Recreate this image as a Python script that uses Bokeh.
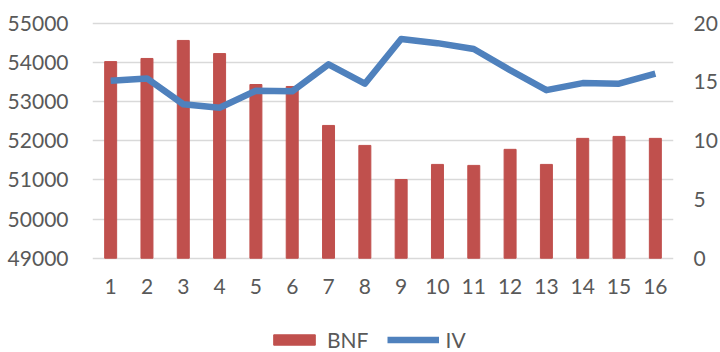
from bokeh.plotting import figure
from bokeh.models import Range1d, LinearAxis, FixedTicker, Legend, LegendItem
from bokeh.embed import file_html
from bokeh.resources import INLINE

periods = list(range(1, 17))
bnf = [54020, 54100, 54560, 54225, 53435, 53385, 52390, 51880,
       51010, 51395, 51370, 51780, 51395, 52060, 52110, 52060]
iv = [15.1, 15.3, 13.1, 12.8, 14.25, 14.2, 16.5, 14.85,
      18.65, 18.3, 17.8, 16.0, 14.3, 14.9, 14.85, 15.7]
left_ticks = [49000, 50000, 51000, 52000, 53000, 54000, 55000]
right_ticks = [0, 5, 10, 15, 20]

FONT = "Lato"
TXT = "#595959"
BAR = "#C0504D"
LINE = "#4F81BD"

# frame spans the full height; ranges are padded so that the 49000..55000
# band sits where the reference plot area is (legend lives below it)
p = figure(width=720, height=352, output_backend="svg", toolbar_location=None,
           x_range=Range1d(0.5, 16.5), y_range=Range1d(46593, 55580),
           x_axis_location=None,
           min_border_left=92, min_border_right=45, min_border_top=0,
           min_border_bottom=0)
p.outline_line_color = None
p.background_fill_color = "white"
p.border_fill_color = "white"
p.extra_y_ranges = {"iv": Range1d(-8.03, 21.93)}

bars = p.vbar(x=periods, top=bnf, bottom=49000, width=0.33, color=BAR)
line = p.line(x=periods, y=iv, y_range_name="iv", line_color=LINE,
              line_width=6.5, line_join="round")

xa = LinearAxis(ticker=FixedTicker(ticks=periods), fixed_location=49000)
p.add_layout(xa, "below")
p.yaxis.ticker = FixedTicker(ticks=left_ticks)
p.xgrid.visible = False
p.ygrid.grid_line_color = "#D9D9D9"
p.ygrid.grid_line_width = 1.5

ra = LinearAxis(y_range_name="iv", ticker=FixedTicker(ticks=right_ticks))
p.add_layout(ra, "right")

for ax in [xa, p.yaxis[0], ra]:
    ax.axis_line_color = None
    ax.major_tick_line_color = None
    ax.minor_tick_line_color = None
    ax.major_tick_out = 0
    ax.major_tick_in = 0
    ax.major_label_text_font = FONT
    ax.major_label_text_font_size = "21px"
    ax.major_label_text_color = TXT
p.yaxis[0].major_label_standoff = 24
ra.major_label_standoff = 20
xa.major_label_standoff = 21

legend = Legend(items=[LegendItem(label="BNF", renderers=[bars]),
                       LegendItem(label="IV", renderers=[line])],
                orientation="horizontal", location=(176, 0),
                glyph_width=52, glyph_height=13, label_standoff=7, spacing=18,
                padding=0, margin=0, border_line_color=None,
                background_fill_alpha=0, label_text_font=FONT,
                label_text_font_size="21px", label_text_color=TXT,
                label_height=21)
p.add_layout(legend, "center")

open("out.html", "w").write(file_html(p, INLINE))
